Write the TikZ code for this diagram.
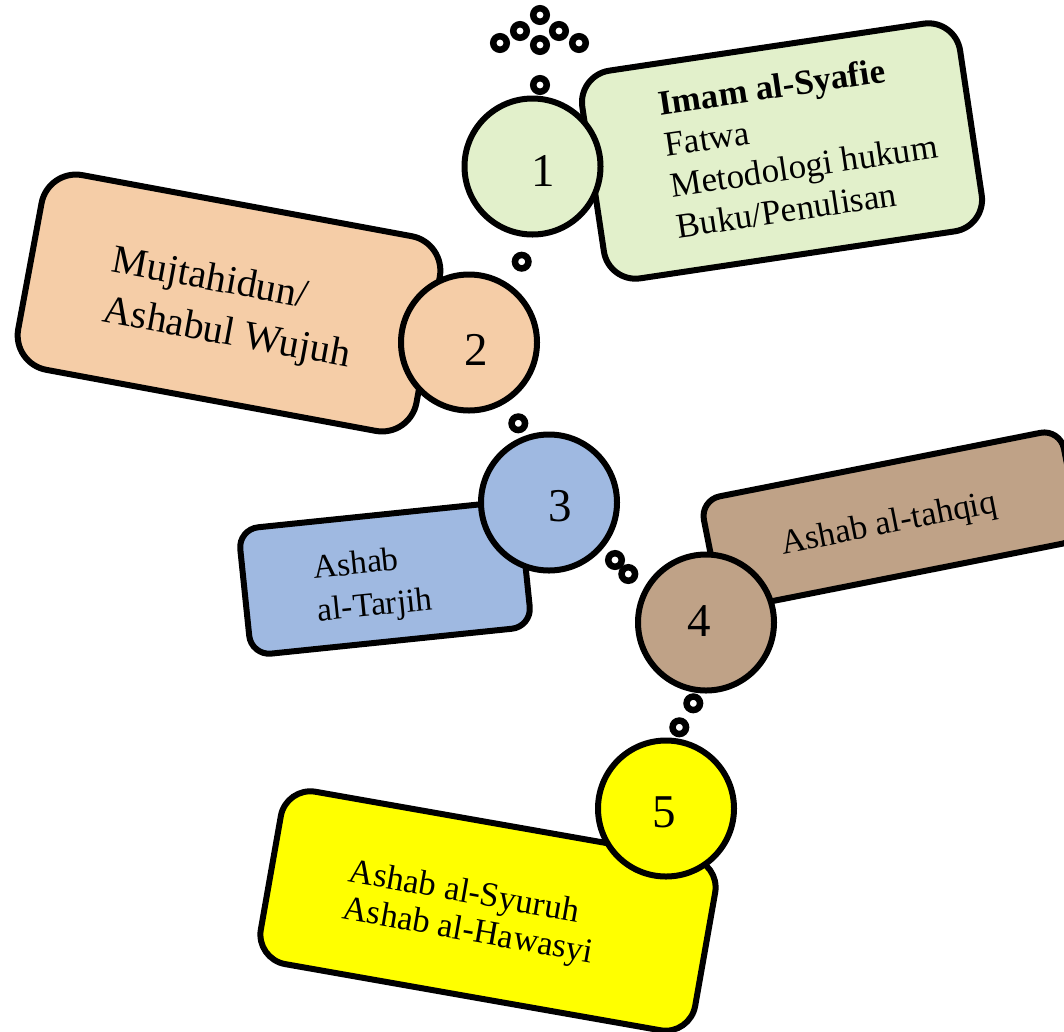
\documentclass[tikz,border=0pt]{standalone}
\usepackage{fontspec}
\setmainfont{Liberation Serif}
\definecolor{cgreen}{RGB}{226,240,203}
\definecolor{corange}{RGB}{245,205,167}
\definecolor{cblue}{RGB}{159,185,225}
\definecolor{cbrown}{RGB}{191,162,135}
\definecolor{cyellow}{RGB}{255,255,0}
\tikzset{
  box/.style={draw, line width=6pt, inner sep=0pt, outer sep=0pt},
  numcirc/.style={circle, draw, line width=6pt, minimum size=136pt, inner sep=0pt},
  ring/.style={circle, draw, line width=6.5pt, fill=white, minimum size=13.5pt, inner sep=0pt},
  txt/.style={inner sep=0pt, outer sep=0pt, align=left},
  num/.style={inner sep=0pt, font=\fontsize{47}{47}\selectfont}
}
\begin{document}
\begin{tikzpicture}[x=1pt,y=-1pt]
\useasboundingbox (0,0) rectangle (1064,1031);
\clip (0,0) rectangle (1064,1031);
% boxes
\node[box, fill=cgreen, rounded corners=32pt, minimum width=382pt, minimum height=210pt, rotate=8.5] (b1) at (782,151) {};
\node[box, fill=corange, rounded corners=35pt, minimum width=405pt, minimum height=198pt, rotate=-10.5] (b2) at (229,303) {};
\node[box, fill=cblue, rounded corners=20pt, minimum width=282pt, minimum height=127pt, rotate=5.9] (b3) at (385,578) {};
\node[box, fill=cbrown, rounded corners=20pt, minimum width=367pt, minimum height=113pt, rotate=11.2] (b4) at (891,520) {};
\node[box, fill=cyellow, rounded corners=30pt, minimum width=441pt, minimum height=175pt, rotate=-10] (b5) at (488,911) {};
% box texts
\node[txt, rotate=8.5, font=\fontsize{35}{41.4}\selectfont] (t1) at (801,145) {\textbf{Imam al-Syafie}\\Fatwa\\Metodologi hukum\\Buku/Penulisan};
\node[txt, rotate=-10.5, font=\fontsize{40}{50.7}\selectfont] (t2) at (231,310) {Mujtahidun/\\Ashabul Wujuh};
\node[txt, rotate=5.9, font=\fontsize{33.5}{43}\selectfont] (t3) at (373,586) {Ashab\\al-Tarjih};
\node[txt, rotate=11.2, font=\fontsize{34.5}{40}\selectfont] (t4) at (889,525) {Ashab al-tahqiq};
\node[txt, rotate=-10, font=\fontsize{34.5}{37.6}\selectfont] (t5) at (471,914) {Ashab al-Syuruh\\Ashab al-Hawasyi};
% circles
\node[numcirc, fill=cgreen] (c1) at (532.5,166.5) {};
\node[numcirc, fill=corange] (c2) at (469,342.5) {};
\node[numcirc, fill=cblue] (c3) at (549,502.5) {};
\node[numcirc, fill=cbrown] (c4) at (706,622.5) {};
\node[numcirc, fill=cyellow] (c5) at (666,808.5) {};
\node[num] (n1) at (543,171) {1};
\node[num] (n2) at (476,350) {2};
\node[num] (n3) at (560,506) {3};
\node[num] (n4) at (699,621) {4};
\node[num] (n5) at (664,812) {5};
% rings
\node[ring] (r1) at (540,15) {};
\node[ring] (r2) at (520,31) {};
\node[ring] (r3) at (559,31) {};
\node[ring] (r4) at (500,43) {};
\node[ring] (r5) at (540,45) {};
\node[ring] (r6) at (579,43) {};
\node[ring] (r7) at (540,85) {};
\node[ring] (r8) at (521.7,261.7) {};
\node[ring] (r9) at (518.3,423.3) {};
\node[ring] (r10) at (615,560) {};
\node[ring] (r11) at (628.3,574) {};
\node[ring] (r12) at (693.3,703.3) {};
\node[ring] (r13) at (679.3,727.3) {};
\end{tikzpicture}
\end{document}
